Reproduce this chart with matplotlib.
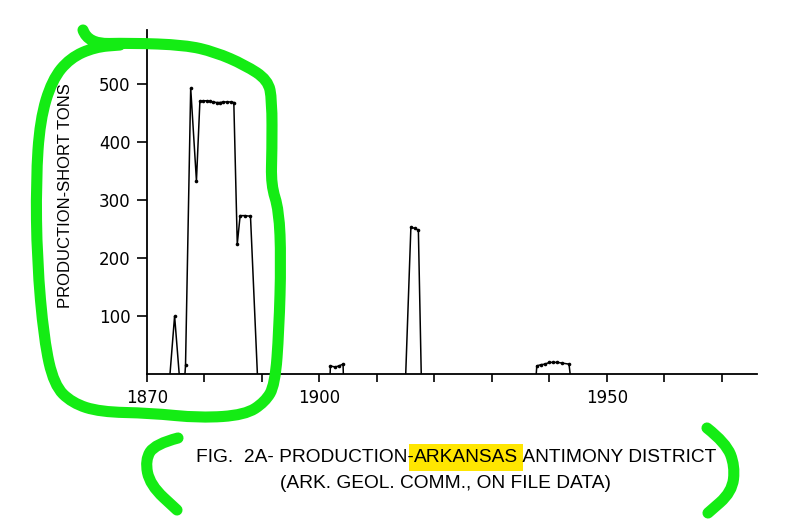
import numpy as np
import matplotlib
matplotlib.use("Agg")
import matplotlib.pyplot as plt
from matplotlib.path import Path
from matplotlib.patches import PathPatch

# --- data (year, short tons) ---
# 1870s-1880s boom
yrs_1870s = [1874.0, 1874.8, 1875.6, 1876.6, 1876.7, 1877.6, 1878.6, 1879.2, 1879.8, 1880.4,
             1881.0, 1881.5, 1882.1, 1882.7, 1883.3, 1883.9, 1884.6, 1885.1, 1885.7, 1886.2,
             1887.0, 1888.0, 1889.2]
tons_1870s = [0, 100, 0, 0, 15, 493, 333, 470, 471, 471,
              470, 469, 468, 468, 469, 469, 469, 468, 224, 273,
              273, 272, 0]
# small output 1902-1904
yrs_1900s = [1901.85, 1901.9, 1902.7, 1903.4, 1904.1, 1904.15]
tons_1900s = [0, 14, 12, 14, 17, 0]
# WWI spike
yrs_1910s = [1915.0, 1915.9, 1916.6, 1917.2, 1917.7]
tons_1910s = [0, 253, 251, 248, 0]
# WWII period
yrs_1940s = [1937.7, 1937.8, 1938.5, 1939.2, 1940.0, 1940.7, 1941.4, 1942.1, 1943.4, 1943.6]
tons_1940s = [0, 14, 16, 17, 20, 20, 20, 19, 17, 0]

x_ticks = list(range(1880, 1971, 10))
x_labels = {1870: "1870", 1900: "1900", 1950: "1950"}
y_ticks = [100, 200, 300, 400, 500]

W, H = 800, 527
fig = plt.figure(figsize=(8, 5.27), dpi=100)
ax = fig.add_axes([147 / W, 1 - 374 / H, (757 - 147) / W, (374 - 30) / H])

for yrs, tons in [(yrs_1870s, tons_1870s), (yrs_1900s, tons_1900s),
                  (yrs_1910s, tons_1910s), (yrs_1940s, tons_1940s)]:
    yrs = np.array(yrs)
    tons = np.array(tons, dtype=float)
    ax.plot(yrs, tons, color="black", lw=1.1, solid_joinstyle="miter")
    nz = tons > 0
    ax.plot(yrs[nz], tons[nz], "o", color="black", ms=2.6, mew=0)

ax.set_xlim(1870, 1976.1)
ax.set_ylim(0, 593)
for s in ["top", "right"]:
    ax.spines[s].set_visible(False)
ax.spines["left"].set_linewidth(1.3)
ax.spines["bottom"].set_linewidth(1.3)

ax.set_xticks([1870] + x_ticks)
ax.set_xticklabels([x_labels.get(t, "") for t in [1870] + x_ticks])
ax.set_yticks(y_ticks)
ax.set_yticklabels([str(v) for v in y_ticks])
ax.tick_params(axis="x", length=6, width=1.2, pad=5, labelsize=12)
ax.tick_params(axis="y", length=7, width=1.2, pad=5, labelsize=12)
for lbl in ax.get_xticklabels() + ax.get_yticklabels():
    lbl.set_family("DejaVu Sans")

fig.text(65 / W, 1 - 196 / H, "PRODUCTION-SHORT TONS", rotation=90,
         ha="center", va="center", fontsize=12, family="Liberation Sans")

# caption, with the highlighted word
cap_kw = dict(fontsize=13.8, family="Liberation Sans", va="bottom")
t1 = fig.text(196 / W, 1 - 466 / H, "FIG.  2A- PRODUCTION-", ha="left", **cap_kw)
t2 = ax.annotate("ARKANSAS", xy=(1, 0), xycoords=t1, ha="left",
                 bbox=dict(boxstyle="square,pad=0.25", fc="#ffe600", ec="none"), **cap_kw)
t3 = ax.annotate(" ANTIMONY DISTRICT", xy=(1, 0), xycoords=t2, ha="left", **cap_kw)
fig.text(445 / W, 1 - 483 / H, "(ARK. GEOL. COMM., ON FILE DATA)",
         ha="center", va="center", fontsize=13.8, family="Liberation Sans")


# green hand-drawn marks (pixel coords, y down)
def smooth_stroke(pts):
    pts = [(x / W, 1 - y / H) for x, y in pts]
    verts = [pts[0]]
    codes = [Path.MOVETO]
    for i in range(1, len(pts) - 1):
        mid = ((pts[i][0] + pts[i + 1][0]) / 2, (pts[i][1] + pts[i + 1][1]) / 2)
        verts += [pts[i], mid]
        codes += [Path.CURVE3, Path.CURVE3]
    verts.append(pts[-1])
    codes.append(Path.LINETO)
    p = PathPatch(Path(verts, codes), transform=fig.transFigure, fill=False,
                  ec="#14ec14", lw=8, capstyle="round", joinstyle="round")
    fig.add_artist(p)


loop = [(83, 30), (88, 44), (130, 43), (185, 45), (215, 52), (245, 65), (268, 80),
        (272, 100), (272, 150), (271, 185), (279, 210), (281, 260), (279, 330),
        (275, 385), (265, 402), (245, 415), (200, 418), (150, 413), (100, 412),
        (72, 403), (54, 385), (44, 340), (37, 260), (36, 180), (40, 120), (52, 80),
        (70, 58), (95, 47), (120, 45)]
left_br = [(178, 438), (155, 444), (145, 460), (150, 485), (177, 510)]
right_br = [(707, 428), (726, 443), (735, 466), (732, 492), (708, 513)]
for s in (loop, left_br, right_br):
    smooth_stroke(s)

plt.savefig("out.png", dpi=100)
